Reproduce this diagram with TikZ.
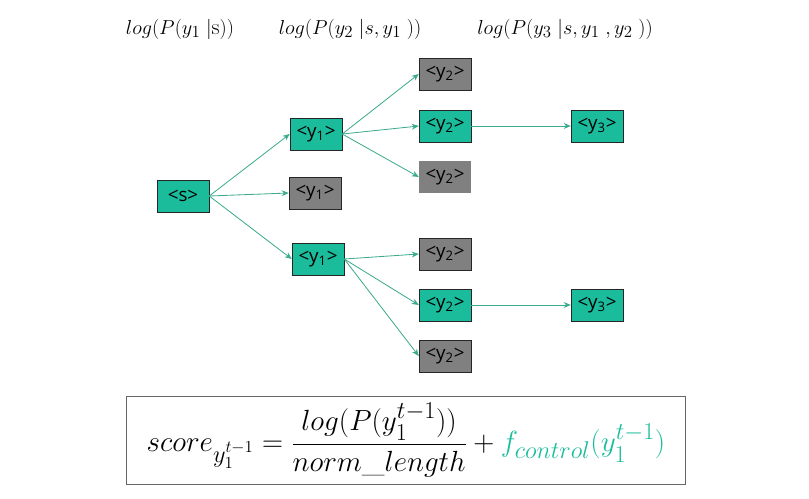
\documentclass[tikz,border=0pt]{standalone}
\usepackage{amsmath}
\usepackage{fontspec}
\setsansfont{Open Sans}
\definecolor{tealbox}{RGB}{26,188,156}
\definecolor{tealline}{RGB}{60,170,140}
\definecolor{greybox}{RGB}{128,128,128}
\usetikzlibrary{arrows.meta}
\newcommand{\tok}[2]{\textsf{<#1$_{\mathsf{#2}}$>}}
\begin{document}
\begin{tikzpicture}[x=0.03cm,y=-0.03cm,
    keep/.style={draw=black!85,fill=tealbox,minimum width=1.56cm,minimum height=0.96cm,inner sep=0pt,font=\fontsize{16}{18}\selectfont},
    drop/.style={keep,fill=greybox},
    beam/.style={-{Stealth[length=6pt,width=5pt]},draw=tealline,line width=0.7pt},
    steplabel/.style={inner sep=0pt,font=\fontsize{19}{22}\selectfont}]
        \useasboundingbox (0,0) rectangle (809,498);

        % Step labels on top
        \node[steplabel] (p1) at (180,29) {$log(P(y_1\;|\mathrm{s}))$};
        \node[steplabel] (p2) at (350,29) {$log(P(y_2\;|s,y_1\;))$};
        \node[steplabel] (p3) at (565,29) {$log(P(y_3\;|s,y_1\;,y_2\;))$};

        % Start token
        \node[keep] (s) at (183,196) {\textsf{<s>}};

        % First step
        \node[keep] (a1) at (316,134) {\tok{y}{1}};
        \node[drop] (a2) at (315,193) {\tok{y}{1}};
        \node[keep] (a3) at (318,259) {\tok{y}{1}};

        % Second step, upper branch
        \node[drop] (b1) at (445,74) {\tok{y}{2}};
        \node[keep] (b2) at (445,126) {\tok{y}{2}};
        \node[drop,draw=none] (b3) at (445,177) {\tok{y}{2}};

        % Second step, lower branch
        \node[drop] (c1) at (445,254) {\tok{y}{2}};
        \node[keep] (c2) at (445,305) {\tok{y}{2}};
        \node[drop] (c3) at (445,356) {\tok{y}{2}};

        % Third step
        \node[keep] (b4) at (597,126) {\tok{y}{3}};
        \node[keep] (c4) at (597,305) {\tok{y}{3}};

        % Connectors
        \draw[beam] (s.east) -- (a1.west);
        \draw[beam] (s.east) -- (a2.west);
        \draw[beam] (s.east) -- (a3.west);
        \draw[beam] (a1.east) -- (b1.west);
        \draw[beam] (a1.east) -- (b2.west);
        \draw[beam] (a1.east) -- (b3.west);
        \draw[beam] (a3.east) -- (c1.west);
        \draw[beam] (a3.east) -- (c2.west);
        \draw[beam] (a3.east) -- (c3.west);
        \draw[beam] (b2.east) -- (b4.west);
        \draw[beam] (c2.east) -- (c4.west);

        % Score formula
        \draw[draw=black!60,line width=0.8pt] (126,396) rectangle (685,484);
        \node[font=\fontsize{28}{32}\selectfont] (score) at (406,440)
            {$score_{y_1^{t-1}} = \dfrac{log(P(y_1^{t-1}))}{norm\_length} + {\color{tealbox}f_{control}(y_1^{t-1})}$};
    \end{tikzpicture}
\end{document}
